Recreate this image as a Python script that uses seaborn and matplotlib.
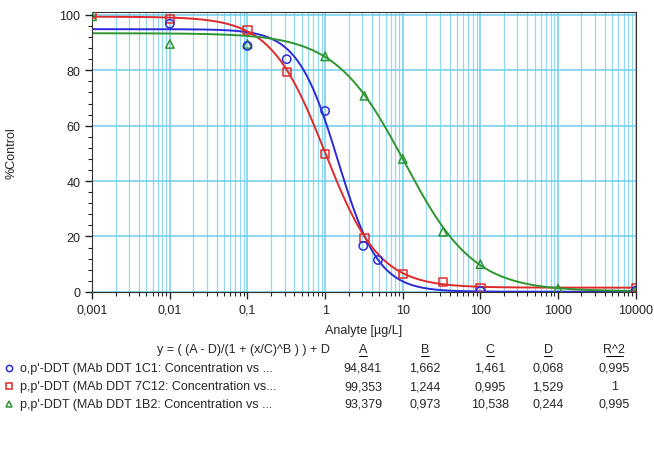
import numpy as np
import pandas as pd
import matplotlib
matplotlib.use('Agg')
import matplotlib.pyplot as plt
from matplotlib.lines import Line2D
from matplotlib.ticker import FixedLocator, FixedFormatter, LogLocator, MultipleLocator, NullFormatter
import seaborn as sns

conc_blue = [0.01, 0.1, 0.32, 1, 3.1, 4.8, 100, 10000]
ctrl_blue = [96.8, 88.8, 84.0, 65.3, 16.6, 11.5, 0.3, 0.4]
conc_red = [0.001, 0.01, 0.1, 0.32, 1, 3.2, 10, 33, 100, 10000]
ctrl_red = [100.2, 98.5, 94.6, 79.4, 49.8, 19.5, 6.5, 3.6, 1.4, 1.5]
conc_green = [0.001, 0.01, 0.1, 1, 3.2, 10, 33, 100, 1000, 10000]
ctrl_green = [99.5, 89.5, 89.5, 85.0, 70.8, 48.0, 21.7, 10.0, 1.2, 0.5]

# 4PL fit parameters shown in the table
names = ["o,p'-DDT (MAb DDT 1C1: Concentration vs ...",
         "p,p'-DDT (MAb DDT 7C12: Concentration vs...",
         "p,p'-DDT (MAb DDT 1B2: Concentration vs ..."]
A = [94.841, 99.353, 93.379]
B = [1.662, 1.244, 0.973]
C = [1.461, 0.995, 10.538]
D = [0.068, 1.529, 0.244]
R2 = ['0,995', '1', '0,995']

colors = ['#2b2bd8', '#e02a2a', '#2f962f']
markers = ['o', 's', '^']
tick_vals = [0.001, 0.01, 0.1, 1, 10, 100, 1000, 10000]
tick_text = ['0,001', '0,01', '0,1', '1', '10', '100', '1000', '10000']

sns.set_style('ticks')
plt.rcParams['font.family'] = ['Liberation Sans', 'DejaVu Sans']
plt.rcParams['font.size'] = 9

fig = plt.figure(figsize=(6.54, 4.52), dpi=100)
ax = fig.add_axes([0.141, 0.352, 0.831, 0.619])

xs = np.logspace(-3, 4, 500)
points = [(conc_blue, ctrl_blue), (conc_red, ctrl_red), (conc_green, ctrl_green)]
for i in range(3):
    fit = (A[i] - D[i]) / (1 + (xs / C[i]) ** B[i]) + D[i]
    sns.lineplot(x=xs, y=fit, color=colors[i], lw=1.4, ax=ax)
for i in [2, 1, 0]:
    df = pd.DataFrame({'x': points[i][0], 'y': points[i][1]})
    sns.scatterplot(data=df, x='x', y='y', marker=markers[i], s=36,
                    facecolor='none', edgecolor=colors[i], linewidth=1.1,
                    ax=ax, zorder=5)

ax.set_xscale('log')
ax.set_xlim(0.001, 10000)
ax.set_ylim(0, 101)
ax.xaxis.set_major_locator(FixedLocator(tick_vals))
ax.xaxis.set_major_formatter(FixedFormatter(tick_text))
ax.xaxis.set_minor_locator(LogLocator(base=10, subs=np.arange(2, 10)))
ax.xaxis.set_minor_formatter(NullFormatter())
ax.yaxis.set_major_locator(MultipleLocator(20))
ax.yaxis.set_minor_locator(MultipleLocator(4))
ax.grid(which='major', axis='both', color='#6fcdec', lw=1.1)
ax.grid(which='minor', axis='x', color='#93d8f0', lw=0.9)
ax.set_axisbelow(True)
ax.tick_params(which='major', length=5, width=1, labelsize=9, colors='#222222')
ax.tick_params(which='minor', length=3, width=0.8)
for s in ax.spines.values():
    s.set_color('#333333')
ax.set_xlabel('Analyte [µg/L]', fontsize=9, labelpad=6)
ax.set_ylabel('%Control', fontsize=9, labelpad=30)

# table below the chart
col_x = [0.555, 0.650, 0.749, 0.838, 0.939]
y_head = 1 - 350 / 452
fig.text(0.505, y_head, 'y = ( (A - D)/(1 + (x/C)^B ) ) + D', ha='right', va='center', fontsize=9)
for cx, h in zip(col_x, ['A', 'B', 'C', 'D', 'R^2']):
    t = fig.text(cx, y_head, h, ha='center', va='center', fontsize=9)
    w = 0.012 if h != 'R^2' else 0.026
    fig.add_artist(Line2D([cx - w / 2, cx + w / 2], [y_head - 0.015, y_head - 0.015],
                          color='black', lw=0.7, transform=fig.transFigure))
for i in range(3):
    yy = 1 - (369 + 18 * i) / 452
    fig.add_artist(Line2D([0.013], [yy], marker=markers[i], ms=4.5, mfc='none',
                          mec=colors[i], mew=1.1, ls='none', transform=fig.transFigure))
    fig.text(0.03, yy, names[i], ha='left', va='center', fontsize=9)
    vals = ['%.3f' % A[i], '%.3f' % B[i], '%.3f' % C[i], '%.3f' % D[i]]
    vals = [v.replace('.', ',') for v in vals] + [R2[i]]
    for cx, v in zip(col_x, vals):
        fig.text(cx, yy, v, ha='center', va='center', fontsize=9)

plt.savefig('out.png', dpi=100)
